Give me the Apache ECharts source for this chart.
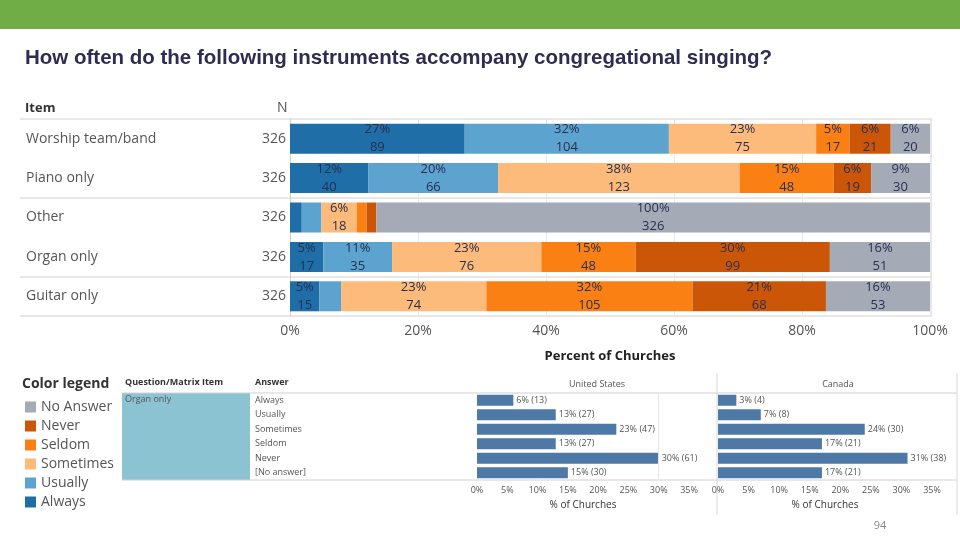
<!DOCTYPE html>
<html>
<head>
<meta charset="utf-8">
<script src="https://cdn.jsdelivr.net/npm/echarts@6/dist/echarts.min.js"></script>
<style>html,body{margin:0;padding:0;background:#fff;}#c{width:960px;height:540px;}</style>
</head>
<body>
<div id="c"></div>
<script>
// ---- Main chart data ----
const items = ['Worship team/band', 'Piano only', 'Other', 'Organ only', 'Guitar only'];
const itemN = [326, 326, 326, 326, 326];
const answers = ['Always', 'Usually', 'Sometimes', 'Seldom', 'Never', 'No Answer'];
// counts per answer (segment widths = count / N)
const alwaysCounts    = [89, 40, 6, 17, 15];
const usuallyCounts   = [104, 66, 10, 35, 11];
const sometimesCounts = [75, 123, 18, 76, 74];
const seldomCounts    = [17, 48, 5, 48, 105];
const neverCounts     = [21, 19, 5, 99, 68];
const noAnswerCounts  = [20, 30, 282, 51, 53];
// displayed labels (null = not shown)
const alwaysPctLbl    = [27, 12, null, 5, 5];
const alwaysNLbl      = [89, 40, null, 17, 15];
const usuallyPctLbl   = [32, 20, null, 11, null];
const usuallyNLbl     = [104, 66, null, 35, null];
const sometimesPctLbl = [23, 38, 6, 23, 23];
const sometimesNLbl   = [75, 123, 18, 76, 74];
const seldomPctLbl    = [5, 15, null, 15, 32];
const seldomNLbl      = [17, 48, null, 48, 105];
const neverPctLbl     = [6, 6, null, 30, 21];
const neverNLbl       = [21, 19, null, 99, 68];
const noAnswerPctLbl  = [6, 9, 100, 16, 16];
const noAnswerNLbl    = [20, 30, 326, 51, 53];
const xTicks = [0, 20, 40, 60, 80, 100];

// ---- Detail panel data (Organ only) ----
const detailItem = 'Organ only';
const detailAnswers = ['Always', 'Usually', 'Sometimes', 'Seldom', 'Never', '[No answer]'];
const usPct = [6, 13, 23, 13, 30, 15];
const usCounts = [13, 27, 47, 27, 61, 30];
const caPct = [3, 7, 24, 17, 31, 17];
const caCounts = [4, 8, 30, 21, 38, 21];
const detailTicks = [0, 5, 10, 15, 20, 25, 30, 35];

const colors = {
  'Always': '#1f6ea8',
  'Usually': '#5da3d0',
  'Sometimes': '#fdbb7b',
  'Seldom': '#fb8013',
  'Never': '#cc5608',
  'No Answer': '#a4abb7'
};

const FONT = "'Open Sans', 'DejaVu Sans', sans-serif";

const segs = [
  ['Always', alwaysCounts, alwaysPctLbl, alwaysNLbl],
  ['Usually', usuallyCounts, usuallyPctLbl, usuallyNLbl],
  ['Sometimes', sometimesCounts, sometimesPctLbl, sometimesNLbl],
  ['Seldom', seldomCounts, seldomPctLbl, seldomNLbl],
  ['Never', neverCounts, neverPctLbl, neverNLbl],
  ['No Answer', noAnswerCounts, noAnswerPctLbl, noAnswerNLbl]
];

const mainSeries = segs.map(([name, counts, pl, nl]) => ({
  name: name,
  type: 'bar',
  stack: 'main',
  xAxisIndex: 0,
  yAxisIndex: 0,
  barWidth: 30,
  itemStyle: { color: colors[name] },
  data: counts.map((c, i) => c / itemN[i] * 100),
  label: {
    show: true,
    position: 'inside',
    fontFamily: FONT,
    fontSize: 13,
    lineHeight: 18,
    color: '#273050',
    formatter: p => pl[p.dataIndex] == null ? '' : pl[p.dataIndex] + '%\n' + nl[p.dataIndex]
  },
  emphasis: { disabled: true }
}));

function detailSeries(pcts, counts, xi, yi, withLine) {
  const s = {
    name: 'detail' + xi,
    type: 'bar',
    xAxisIndex: xi,
    yAxisIndex: yi,
    barWidth: 11,
    itemStyle: { color: '#4e79a7' },
    data: pcts,
    label: {
      show: true,
      position: 'right',
      distance: 3,
      fontFamily: FONT,
      fontSize: 9,
      color: '#555',
      formatter: p => pcts[p.dataIndex] + '% (' + counts[p.dataIndex] + ')'
    },
    emphasis: { disabled: true }
  };
  if (withLine) {
    s.markLine = {
      silent: true,
      symbol: 'none',
      label: { show: false },
      lineStyle: { color: '#e4e4e4', type: 'solid', width: 1 },
      data: [{ xAxis: 30 }]
    };
  }
  return s;
}

const detailXAxis = (idx) => ({
  type: 'value', gridIndex: idx, min: 0, max: 35, interval: 5,
  axisLine: { show: false }, axisTick: { show: false }, splitLine: { show: false },
  axisLabel: { formatter: '{value}%', fontFamily: FONT, fontSize: 9, color: '#555', margin: 6,
    customValues: detailTicks },
  name: '% of Churches', nameLocation: 'middle', nameGap: 20,
  nameTextStyle: { fontFamily: FONT, fontSize: 10, color: '#333' }
});

const chart = echarts.init(document.getElementById('c'));
chart.setOption({
  animation: false,
  backgroundColor: '#fff',
  textStyle: { fontFamily: FONT },
  legend: {
    orient: 'vertical',
    left: 20, top: 395,
    itemWidth: 11, itemHeight: 11, itemGap: 5,
    icon: 'rect',
    selectedMode: false,
    data: ['No Answer', 'Never', 'Seldom', 'Sometimes', 'Usually', 'Always'],
    textStyle: { fontFamily: FONT, fontSize: 14, color: '#555' }
  },
  grid: [
    { left: 290, top: 119, width: 640, height: 197 },
    { left: 477, top: 393, width: 212, height: 87 },
    { left: 718, top: 393, width: 214, height: 87 }
  ],
  xAxis: [
    {
      type: 'value', gridIndex: 0, min: 0, max: 100, interval: 20,
      axisLine: { show: false }, axisTick: { show: false },
      splitLine: { show: true, lineStyle: { color: '#e8e8e8' } },
      axisLabel: { formatter: '{value}%', fontFamily: FONT, fontSize: 14, color: '#555', margin: 8,
        customValues: xTicks },
      name: 'Percent of Churches', nameLocation: 'middle', nameGap: 34,
      nameTextStyle: { fontFamily: FONT, fontSize: 13, fontWeight: 'bold', color: '#222' }
    },
    detailXAxis(1),
    detailXAxis(2)
  ],
  yAxis: [
    {
      type: 'category', gridIndex: 0, data: items, inverse: true,
      axisTick: { show: false },
      axisLine: { show: true, lineStyle: { color: '#d0d0d0' } },
      axisLabel: {
        margin: 4,
        formatter: (v, i) => '{a|' + v + '}{b|' + itemN[i] + '}',
        rich: {
          a: { width: 232, align: 'left', fontFamily: FONT, fontSize: 14, color: '#555' },
          b: { width: 28, align: 'right', fontFamily: FONT, fontSize: 14, color: '#555' }
        }
      }
    },
    {
      type: 'category', gridIndex: 1, data: detailAnswers, inverse: true,
      axisTick: { show: false }, axisLine: { show: false },
      axisLabel: { align: 'left', margin: 222, fontFamily: FONT, fontSize: 9, color: '#555' }
    },
    {
      type: 'category', gridIndex: 2, data: detailAnswers, inverse: true,
      axisTick: { show: false }, axisLine: { show: false },
      axisLabel: { show: false }
    }
  ],
  series: mainSeries.concat([
    detailSeries(usPct, usCounts, 1, 1, true),
    detailSeries(caPct, caCounts, 2, 2, false)
  ]),
  graphic: [
    { type: 'rect', shape: { x: 0, y: 0, width: 960, height: 29 }, style: { fill: '#70ad47' }, silent: true },
    { type: 'text', left: 25, top: 48, style: { text: 'How often do the following instruments accompany congregational singing?',
      font: 'bold 20.5px "Liberation Sans", Arial, sans-serif', fill: '#2e2c50' } },
    { type: 'text', left: 25, top: 102, style: { text: 'Item', font: 'bold 13px ' + FONT, fill: '#333' } },
    { type: 'text', left: 277, top: 101, style: { text: 'N', font: '14px ' + FONT, fill: '#555' } },
    // row divider lines
    { type: 'line', shape: { x1: 20, y1: 119, x2: 932, y2: 119 }, style: { stroke: '#d0d0d0', lineWidth: 1 }, silent: true },
    { type: 'line', shape: { x1: 20, y1: 198, x2: 932, y2: 198 }, style: { stroke: '#d0d0d0', lineWidth: 1 }, silent: true },
    { type: 'line', shape: { x1: 20, y1: 277, x2: 932, y2: 277 }, style: { stroke: '#d0d0d0', lineWidth: 1 }, silent: true },
    { type: 'line', shape: { x1: 20, y1: 316, x2: 932, y2: 316 }, style: { stroke: '#d0d0d0', lineWidth: 1 }, silent: true },
    { type: 'line', shape: { x1: 931, y1: 119, x2: 931, y2: 316 }, style: { stroke: '#d0d0d0', lineWidth: 1 }, silent: true },
    // color legend title
    { type: 'text', left: 22, top: 377, style: { text: 'Color legend', font: 'bold 14px ' + FONT, fill: '#333' } },
    // detail table
    { type: 'rect', shape: { x: 122, y: 393, width: 128, height: 87 }, style: { fill: '#8cc3d3' }, silent: true },
    { type: 'text', left: 125, top: 378, style: { text: 'Question/Matrix Item', font: 'bold 9px ' + FONT, fill: '#333' } },
    { type: 'text', left: 255, top: 378, style: { text: 'Answer', font: 'bold 9px ' + FONT, fill: '#333' } },
    { type: 'text', left: 125, top: 395, style: { text: detailItem, font: '9px ' + FONT, fill: '#555' } },
    { type: 'text', x: 597, y: 384, style: { text: 'United States', font: '9px ' + FONT, fill: '#555', align: 'center', verticalAlign: 'middle' } },
    { type: 'text', x: 838, y: 384, style: { text: 'Canada', font: '9px ' + FONT, fill: '#555', align: 'center', verticalAlign: 'middle' } },
    { type: 'line', shape: { x1: 122, y1: 393, x2: 957, y2: 393 }, style: { stroke: '#d0d0d0', lineWidth: 1 }, silent: true },
    { type: 'line', shape: { x1: 122, y1: 480, x2: 957, y2: 480 }, style: { stroke: '#d0d0d0', lineWidth: 1 }, silent: true },
    { type: 'line', shape: { x1: 717, y1: 373, x2: 717, y2: 515 }, style: { stroke: '#d8d8d8', lineWidth: 1 }, silent: true },
    { type: 'line', shape: { x1: 957, y1: 373, x2: 957, y2: 515 }, style: { stroke: '#d8d8d8', lineWidth: 1 }, silent: true },
    { type: 'text', x: 880, y: 526, style: { text: '94', font: '11px ' + FONT, fill: '#888', align: 'center', verticalAlign: 'middle' } }
  ]
});
</script>
</body>
</html>
